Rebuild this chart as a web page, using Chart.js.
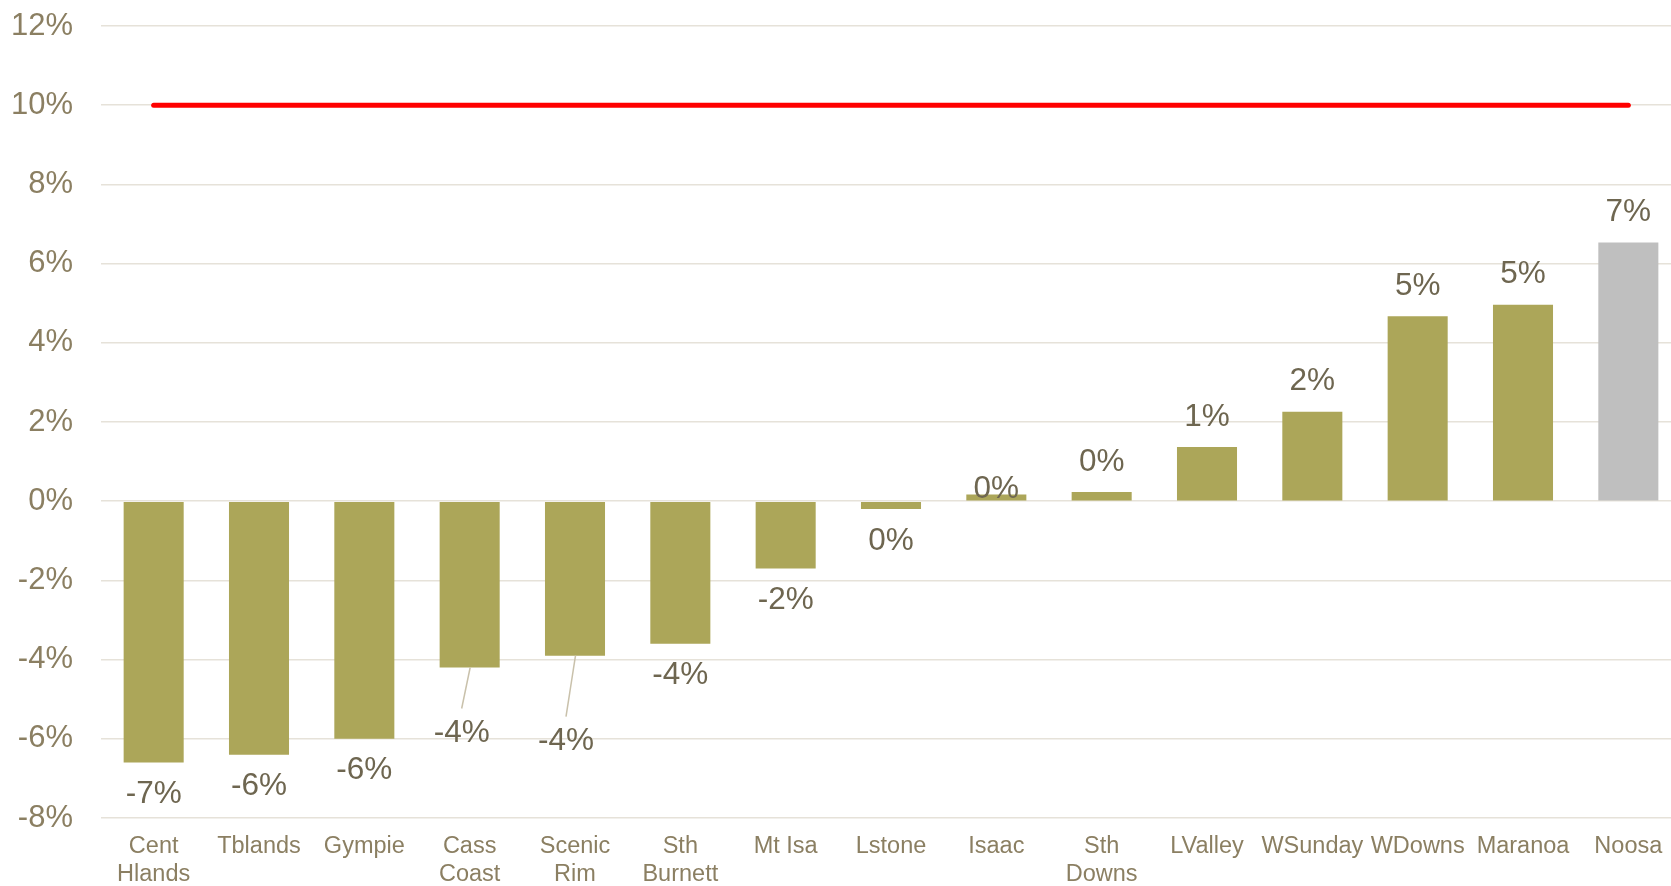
<!DOCTYPE html>
<html>
<head>
<meta charset="utf-8">
<script src="https://cdn.jsdelivr.net/npm/chart.js@4/dist/chart.umd.min.js"></script>
<style>
  html, body { margin: 0; padding: 0; background: #fff; overflow: hidden; }
  #wrap { width: 1681px; height: 886px; position: relative; }
</style>
</head>
<body>
<div id="wrap"><canvas id="growthChart"></canvas></div>
<script>
// Regions and change (%)
const regions = [['Cent', 'Hlands'], 'Tblands', 'Gympie', ['Cass', 'Coast'], ['Scenic', 'Rim'],
  ['Sth', 'Burnett'], 'Mt Isa', 'Lstone', 'Isaac', ['Sth', 'Downs'], 'LValley', 'WSunday',
  'WDowns', 'Maranoa', 'Noosa'];
const changes = [-6.6, -6.4, -6.0, -4.2, -3.9, -3.6, -1.7, -0.2, 0.17, 0.23, 1.37, 2.26, 4.67, 4.96, 6.53];
const target = [10, 10, 10, 10, 10, 10, 10, 10, 10, 10, 10, 10, 10, 10, 10];
const yTicks = [-8, -6, -4, -2, 0, 2, 4, 6, 8, 10, 12];

const olive = '#aca659';
const grey = '#bfbfbf';
const barColours = regions.map((r, i) => i === regions.length - 1 ? grey : olive);

// label placement tweaks (Excel moved a few by hand)
const labelNudge = {
  3: { dy: 66, dx: -8, leader: true },
  4: { dy: 86, dx: -9, leader: true },
  8: { dy: 5 }
};

const valueLabels = {
  id: 'valueLabels',
  afterDatasetsDraw(chart) {
    const ctx = chart.ctx;
    const meta = chart.getDatasetMeta(0);
    ctx.save();
    ctx.font = '31.5px "Liberation Sans", Arial, sans-serif';
    ctx.textAlign = 'center';
    ctx.textBaseline = 'middle';
    meta.data.forEach((bar, i) => {
      const v = changes[i];
      const n = labelNudge[i] || {};
      const dir = v < 0 ? 1 : -1;
      const off = n.dy !== undefined ? n.dy : (v < 0 ? 32 : 30);
      const lx = bar.x + (n.dx || 0);
      const ly = bar.y + dir * off;
      if (n.leader) {
        ctx.strokeStyle = '#c9c1ab';
        ctx.lineWidth = 1.5;
        ctx.beginPath();
        ctx.moveTo(bar.x + 0.5, bar.y);
        ctx.lineTo(lx, ly - 25);
        ctx.stroke();
      }
      ctx.fillStyle = '#6e6650';
      ctx.fillText(Math.round(v) + '%', lx, ly);
    });
    ctx.restore();
  }
};

const ctx = document.getElementById('growthChart').getContext('2d');
new Chart(ctx, {
  data: {
    labels: regions,
    datasets: [{
      type: 'bar',
      data: changes,
      backgroundColor: barColours,
      barPercentage: 0.57,
      categoryPercentage: 1,
      order: 2
    }, {
      type: 'line',
      data: target,
      borderColor: '#ff0000',
      borderWidth: 5,
      borderCapStyle: 'round',
      pointRadius: 0,
      fill: false,
      order: 1
    }]
  },
  options: {
    responsive: true,
    maintainAspectRatio: false,
    animation: false,
    layout: { padding: { top: 26, right: 0, left: 0, bottom: 0 } },
    plugins: {
      legend: { display: false },
      tooltip: { enabled: false }
    },
    scales: {
      x: {
        grid: { display: false, drawTicks: false },
        border: { display: false },
        ticks: {
          color: '#8b7f62',
          font: { family: '"Liberation Sans", Arial, sans-serif', size: 23.5, lineHeight: 1.18 },
          padding: 15,
          maxRotation: 0,
          autoSkip: false
        },
        afterFit(axis) { axis.height = 68; }
      },
      y: {
        min: -8,
        max: 12,
        afterBuildTicks(axis) { axis.ticks = yTicks.map(v => ({ value: v })); },
        grid: { color: '#e6e2d9', lineWidth: 1.5, drawTicks: false },
        border: { display: false },
        ticks: {
          color: '#8b7f62',
          font: { family: '"Liberation Sans", Arial, sans-serif', size: 31 },
          padding: 28,
          callback: v => v + '%'
        },
        afterFit(axis) {
          axis.width = 101;
          axis.paddingTop = 0;
          axis.paddingBottom = 0;
        }
      }
    }
  },
  plugins: [valueLabels]
});
</script>
</body>
</html>
